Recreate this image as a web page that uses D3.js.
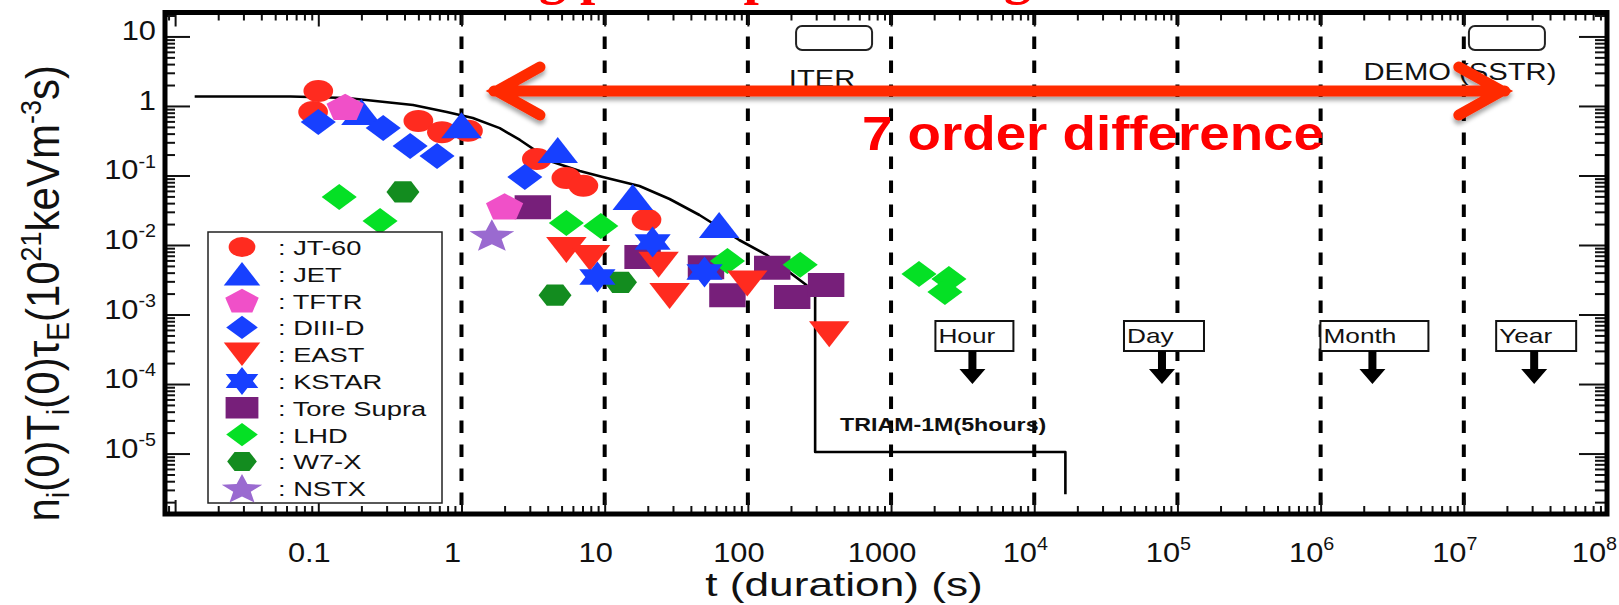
<!DOCTYPE html>
<html>
<head>
<meta charset="utf-8">
<script src="https://cdn.jsdelivr.net/npm/d3@7"></script>
<style>
  html, body { margin: 0; padding: 0; background: #fff; }
  svg { display: block; }
</style>
</head>
<body>
<svg id="chart" width="1619" height="605"></svg>
<script>
// ---------------------------------------------------------------
// Data: plasma duration t (s) versus n_i(0) T_i(0) tau_E (1e21 keV m^-3 s)
// Each series is a list of [duration, triple product] pairs.
// ---------------------------------------------------------------
const seriesNames = ["JT-60", "JET", "TFTR", "DIII-D", "EAST", "KSTAR", "Tore Supra", "LHD", "W7-X", "NSTX"];

const jt60      = [[0.1, 1.64], [0.092, 0.82], [0.50, 0.61], [0.73, 0.42], [1.11, 0.44], [3.36, 0.173], [5.4, 0.092], [7.1, 0.071], [19.6, 0.023]];
const jet       = [[0.20, 0.82], [1.0, 0.53], [4.7, 0.233], [15.7, 0.049], [63, 0.0194]];
const tftr      = [[0.154, 0.97], [2.0, 0.036]];
const diiid     = [[0.1, 0.59], [0.284, 0.48], [0.438, 0.266], [0.675, 0.191], [2.77, 0.095]];
const east      = [[5.4, 0.0085], [7.9, 0.0065], [23.8, 0.0052], [28.4, 0.00185], [99, 0.0028], [370, 0.00052]];
const kstar     = [[8.9, 0.00347], [21.6, 0.011], [49.8, 0.0041]];
const toreSupra = [[3.15, 0.035], [18.4, 0.0067], [51, 0.0048], [72, 0.0019], [148, 0.0047], [204, 0.00179], [352, 0.00266]];
const lhd       = [[0.14, 0.049], [0.27, 0.0221], [5.4, 0.0207], [9.4, 0.0188], [72, 0.0059], [232, 0.0052], [1567, 0.00383], [2535, 0.00324], [2378, 0.0021]];
const w7x       = [[0.39, 0.058], [4.5, 0.0019], [12.9, 0.0029]];
const nstx      = [[1.63, 0.0139]];

// Envelope of achieved performance, ending with the TRIAM-1M long discharge
const envelopeT = [0.0137, 0.064, 0.159, 0.459, 0.79, 1.2, 1.85, 2.56, 4.34, 6.7, 9.7, 17.5, 28.4, 45.9, 87, 135, 256, 295, 295, 16500, 16500];
const envelopeV = [1.37, 1.37, 1.30, 1.03, 0.82, 0.67, 0.48, 0.324, 0.156, 0.116, 0.095, 0.0706, 0.0459, 0.027, 0.0118, 0.0072, 0.00265, 0.00185, 1.05e-5, 1.05e-5, 2.6e-6];

// Axis tick labels
const xTickValues = [0.1, 1, 10, 100, 1000, 1e4, 1e5, 1e6, 1e7, 1e8];
const xTickBase   = ["0.1", "1", "10", "100", "1000", "10", "10", "10", "10", "10"];
const xTickExp    = ["", "", "", "", "", "4", "5", "6", "7", "8"];
const yTickValues = [10, 1, 0.1, 0.01, 1e-3, 1e-4, 1e-5];
const yTickBase   = ["10", "1", "10", "10", "10", "10", "10"];
const yTickExp    = ["", "", "-1", "-2", "-3", "-4", "-5"];

// Reference durations (vertical dashed guides) and time scales
const guideDurations = [1, 10, 100, 1000, 1e4, 1e5, 1e6, 1e7];
const periodNames    = ["Hour", "Day", "Month", "Year"];
const periodSeconds  = [3700, 78000, 2.3e6, 3.1e7];

// Future devices
const projectNames = ["ITER", "DEMO (SSTR)"];
const projectDur   = [400, 2e7];
const projectLevel = [9.5, 9.5];

// Span covered by the red double arrow
const spanDur   = [1.53, 2.13e7];
const spanLevel = 1.64;

// ---------------------------------------------------------------
// Styles
// ---------------------------------------------------------------
const seriesData   = [jt60, jet, tftr, diiid, east, kstar, toreSupra, lhd, w7x, nstx];
const seriesColors = ["#ff2b1f", "#1740ff", "#f050c8", "#1740ff", "#ff2b1f", "#1740ff", "#771f7a", "#05e025", "#138c1f", "#9a6ad0"];
const seriesShapes = ["circle", "triUp", "pentagon", "diamond", "triDown", "hexagram", "square", "diamond", "hexagon", "star"];
const drawOrder    = [6, 0, 1, 2, 3, 8, 7, 4, 5, 9];
const periodBoxWidths = [78, 80, 108, 80];
const MARK_SX = 1.35;   // markers are drawn horizontally widened
const TEXT_SX = 1.3;    // so is the lettering of the original graph

const W = 1619;
const svg = d3.select("#chart");
const FRAME = { left: 165, right: 1607, top: 12.5, bottom: 514 };

const x = d3.scaleLog().domain([0.0085, 1e8]).range([FRAME.left, FRAME.right]);
const y = d3.scaleLog().domain([1.35e-6, 22.1]).range([FRAME.bottom, FRAME.top]);

// ---------------------------------------------------------------
// Marker shapes as d3 symbol types
// ---------------------------------------------------------------
function polyType(ptsFn) {
  return {
    draw(ctx, size) {
      const k = Math.sqrt(size);
      const pts = ptsFn();
      pts.forEach((p, i) => i ? ctx.lineTo(p[0] * k, p[1] * k) : ctx.moveTo(p[0] * k, p[1] * k));
      ctx.closePath();
    }
  };
}
function regular(n, R, start, dy) {
  return d3.range(n).map(i => {
    const a = (start + i * 360 / n) * Math.PI / 180;
    return [R * Math.cos(a), R * Math.sin(a) + dy];
  });
}
function starPts(n, R, r, dy) {
  return d3.range(2 * n).map(i => {
    const a = (-90 + i * 180 / n) * Math.PI / 180;
    const rr = i % 2 ? r : R;
    return [rr * Math.cos(a), rr * Math.sin(a) + dy];
  });
}
const symbolTypes = {
  circle:   { draw(ctx, size) { const r = 11 * Math.sqrt(size); ctx.moveTo(r, 0); ctx.arc(0, 0, r, 0, 2 * Math.PI); } },
  triUp:    polyType(() => [[0, -13], [15, 13], [-15, 13]]),
  triDown:  polyType(() => [[0, 13], [15, -13], [-15, -13]]),
  diamond:  polyType(() => [[0, -13], [13, 0], [0, 13], [-13, 0]]),
  square:   polyType(() => [[-13.5, -12], [13.5, -12], [13.5, 12], [-13.5, 12]]),
  pentagon: polyType(() => regular(5, 14.5, -90, 1.4)),
  hexagon:  polyType(() => regular(6, 12.2, 0, 0)),
  hexagram: polyType(() => starPts(6, 15.5, 15.5 / Math.sqrt(3), 0)),
  star:     polyType(() => starPts(5, 17.5, 7.6, 1.6))
};
function markerPath(shape, scale) {
  return d3.symbol().type(symbolTypes[shape]).size(scale * scale)();
}

// ---------------------------------------------------------------
// Helpers for the widened lettering
// ---------------------------------------------------------------
function wideText(parent, px, py, sx, anchor) {
  return parent.append("text")
    .attr("transform", `translate(${px},${py}) scale(${sx},1)`)
    .attr("text-anchor", anchor || "start");
}
function powerLabel(t, base, exp, fs) {
  t.append("tspan").text(base);
  if (exp) {
    t.append("tspan").attr("font-size", fs * 0.64).attr("dy", -fs * 0.42).text(exp);
  }
}

// ---------------------------------------------------------------
// Cut-off heading at the top of the slide
// ---------------------------------------------------------------
svg.append("text")
  .attr("x", 444).attr("y", -7)
  .attr("font-family", "'Liberation Serif', 'DejaVu Serif', serif")
  .attr("font-weight", "bold").attr("font-size", 55)
  .attr("fill", "#ff0000")
  .text("Long pulse operation regime");

// ---------------------------------------------------------------
// Dashed decade guides
// ---------------------------------------------------------------
svg.append("g").selectAll("line").data(guideDurations).join("line")
  .attr("x1", d => x(d)).attr("x2", d => x(d))
  .attr("y1", FRAME.top).attr("y2", FRAME.bottom)
  .attr("stroke", "#000").attr("stroke-width", 4)
  .attr("stroke-dasharray", "12.5,11.5");

// ---------------------------------------------------------------
// Axes: inward ticks on all four sides
// ---------------------------------------------------------------
function logTicks(lo, hi) {
  const major = [], minor = [];
  for (let e = Math.floor(Math.log10(lo)); e <= Math.ceil(Math.log10(hi)); e++) {
    for (let k = 1; k <= 9; k++) {
      const v = +(k * Math.pow(10, e)).toPrecision(6);
      if (v < lo || v > hi) continue;
      (k === 1 ? major : minor).push(v);
    }
  }
  return { major, minor };
}
const xt = logTicks(x.domain()[0], x.domain()[1]);
const yt = logTicks(y.domain()[0], y.domain()[1]);

function tickAxis(axisFn, scale, vals, size, transform) {
  const g = svg.append("g").attr("transform", transform)
    .call(axisFn(scale).tickValues(vals).tickSize(size).tickFormat(""));
  g.select(".domain").remove();
  g.selectAll("line").attr("stroke", "#111").attr("stroke-width", 2);
}
tickAxis(d3.axisBottom, x, xt.major, -14, `translate(0,${FRAME.bottom})`);
tickAxis(d3.axisBottom, x, xt.minor, -8,  `translate(0,${FRAME.bottom})`);
tickAxis(d3.axisTop,    x, xt.major, -14, `translate(0,${FRAME.top})`);
tickAxis(d3.axisTop,    x, xt.minor, -8,  `translate(0,${FRAME.top})`);
tickAxis(d3.axisLeft,   y, yt.major, -25, `translate(${FRAME.left},0)`);
tickAxis(d3.axisLeft,   y, yt.minor, -10, `translate(${FRAME.left},0)`);
tickAxis(d3.axisRight,  y, yt.major, -28, `translate(${FRAME.right},0)`);
tickAxis(d3.axisRight,  y, yt.minor, -12, `translate(${FRAME.right},0)`);

// Tick labels
const tickFont = 28;
const xLab = svg.append("g")
  .attr("font-family", "'Liberation Sans', Arial, sans-serif")
  .attr("font-size", tickFont).attr("fill", "#111");
xTickValues.forEach((v, i) => {
  const t = wideText(xLab, x(v) - 9, 562, 1.1, "middle");
  powerLabel(t, xTickBase[i], xTickExp[i], tickFont);
  // keep the outermost label inside the page
  const bb = t.node().getBBox();
  const right = x(v) - 9 + (bb.x + bb.width) * 1.1;
  if (right > W - 2) {
    t.attr("transform", `translate(${x(v) - 9 - (right - (W - 2))},562) scale(1.1,1)`);
  }
});
const yLab = svg.append("g")
  .attr("font-family", "'Liberation Sans', Arial, sans-serif")
  .attr("font-size", tickFont).attr("fill", "#111");
yTickValues.forEach((v, i) => {
  const t = wideText(yLab, 156, y(v) + 4, 1.1, "end");
  powerLabel(t, yTickBase[i], yTickExp[i], tickFont);
});

// Axis titles
wideText(svg, 844, 596, TEXT_SX, "middle")
  .attr("font-family", "'Liberation Sans', Arial, sans-serif")
  .attr("font-size", 34).attr("fill", "#111")
  .text("t (duration) (s)");

const yTitle = svg.append("text")
  .attr("transform", `translate(59,${(FRAME.top + FRAME.bottom) / 2 + 30}) rotate(-90) scale(1,1.12)`)
  .attr("text-anchor", "middle")
  .attr("font-family", "'Liberation Sans', Arial, sans-serif")
  .attr("font-size", 42).attr("fill", "#111");
[["n", 0], ["i", 1], ["(0)T", -1], ["i", 1], ["(0)\u03C4", -1], ["E", 1], ["(10", -1], ["21", 2], ["keVm", -2], ["-3", 2], ["s)", -2]]
  .forEach(([s, mode]) => {
    const ts = yTitle.append("tspan").text(s);
    if (mode === 1) ts.attr("font-size", 28).attr("dy", 9);
    if (mode === -1) ts.attr("dy", -9);
    if (mode === 2) ts.attr("font-size", 27).attr("dy", -16);
    if (mode === -2) ts.attr("dy", 16);
  });

// ---------------------------------------------------------------
// Envelope curve
// ---------------------------------------------------------------
const envelope = envelopeT.map((t, i) => [t, envelopeV[i]]);
svg.append("path")
  .datum(envelope)
  .attr("d", d3.line().x(d => x(d[0])).y(d => y(d[1])))
  .attr("fill", "none").attr("stroke", "#000").attr("stroke-width", 2.6)
  .attr("stroke-linejoin", "round");

wideText(svg, x(440), y(2.1e-5), 1.29, "start")
  .attr("font-family", "'Liberation Sans', Arial, sans-serif")
  .attr("font-weight", "bold").attr("font-size", 18).attr("fill", "#111")
  .text("TRIAM-1M(5hours)");

// ---------------------------------------------------------------
// Device markers
// ---------------------------------------------------------------
const markLayer = svg.append("g");
drawOrder.forEach(si => {
  markLayer.append("g").selectAll("path").data(seriesData[si]).join("path")
    .attr("transform", d => `translate(${x(d[0])},${y(d[1])}) scale(${MARK_SX},1)`)
    .attr("d", markerPath(seriesShapes[si], 1))
    .attr("fill", seriesColors[si]);
});

// ---------------------------------------------------------------
// Time-scale boxes with downward arrows
// ---------------------------------------------------------------
const periodLayer = svg.append("g")
  .attr("font-family", "'Liberation Sans', Arial, sans-serif")
  .attr("font-size", 21).attr("fill", "#111");
periodNames.forEach((name, i) => {
  const cx = x(periodSeconds[i]);
  const bw = periodBoxWidths[i];
  const left = cx - bw / 2 + 2;
  const g = periodLayer.append("g");
  g.append("rect")
    .attr("x", left).attr("y", 321).attr("width", bw).attr("height", 30)
    .attr("fill", "#fff").attr("stroke", "#111").attr("stroke-width", 2);
  wideText(g, left + 3, 343, 1.25, "start").text(name);
  const arrow = d3.path();
  arrow.moveTo(cx - 4, 351); arrow.lineTo(cx + 4, 351); arrow.lineTo(cx + 4, 369);
  arrow.lineTo(cx + 13, 369); arrow.lineTo(cx, 384); arrow.lineTo(cx - 13, 369);
  arrow.lineTo(cx - 4, 369); arrow.closePath();
  g.append("path").attr("d", arrow.toString()).attr("fill", "#000");
});

// ---------------------------------------------------------------
// Future devices: ITER and DEMO
// ---------------------------------------------------------------
const projLayer = svg.append("g")
  .attr("font-family", "'Liberation Sans', Arial, sans-serif")
  .attr("font-size", 23).attr("fill", "#111");
projectNames.forEach((name, i) => {
  const cx = x(projectDur[i]), cy = y(projectLevel[i]);
  projLayer.append("rect")
    .attr("x", cx - 38).attr("y", cy - 12).attr("width", 76).attr("height", 24)
    .attr("rx", 6).attr("fill", "none").attr("stroke", "#222").attr("stroke-width", 2);
});
wideText(projLayer, x(projectDur[0]) - 12, 87, 1.27, "middle").text(projectNames[0]);
wideText(projLayer, x(projectDur[1]) - 47, 80, 1.27, "middle").text(projectNames[1]);

// ---------------------------------------------------------------
// Seven-decade span arrow and caption
// ---------------------------------------------------------------
const defs = svg.append("defs");
defs.append("filter").attr("id", "shadow").attr("x", "-5%").attr("y", "-50%").attr("width", "110%").attr("height", "200%")
  .append("feDropShadow").attr("dx", 0).attr("dy", 4).attr("stdDeviation", 2)
  .attr("flood-color", "#000").attr("flood-opacity", 0.35);

const ax0 = x(spanDur[0]), ax1 = x(spanDur[1]), ay = y(spanLevel);
const spanArrow = d3.path();
spanArrow.moveTo(ax0 + 6, ay); spanArrow.lineTo(ax1 - 6, ay);
spanArrow.moveTo(ax0 + 52, ay - 24); spanArrow.lineTo(ax0 + 9, ay); spanArrow.lineTo(ax0 + 52, ay + 24);
spanArrow.moveTo(ax1 - 52, ay - 24); spanArrow.lineTo(ax1 - 9, ay); spanArrow.lineTo(ax1 - 52, ay + 24);
svg.append("path")
  .attr("d", spanArrow.toString())
  .attr("fill", "none").attr("stroke", "#ff2a00").attr("stroke-width", 11)
  .attr("stroke-linecap", "round").attr("stroke-linejoin", "miter")
  .attr("filter", "url(#shadow)");

svg.append("text")
  .attr("x", x(626)).attr("y", y(0.233))
  .attr("font-family", "'Liberation Sans', Arial, sans-serif")
  .attr("font-weight", "bold").attr("font-size", 49).attr("fill", "#ff0000")
  .attr("textLength", 462).attr("lengthAdjust", "spacingAndGlyphs")
  .text("7 order difference");

// ---------------------------------------------------------------
// Legend
// ---------------------------------------------------------------
const legend = svg.append("g");
legend.append("rect")
  .attr("x", 208).attr("y", 232).attr("width", 234).attr("height", 271)
  .attr("fill", "#fff").attr("stroke", "#222").attr("stroke-width", 1.5);
seriesNames.forEach((name, i) => {
  const ry = 247 + i * 26.8;
  legend.append("path")
    .attr("transform", `translate(242,${ry}) scale(${MARK_SX},1)`)
    .attr("d", markerPath(seriesShapes[i], 0.9))
    .attr("fill", seriesColors[i]);
  wideText(legend, 278, ry + 8, TEXT_SX, "start")
    .attr("font-family", "'Liberation Sans', Arial, sans-serif")
    .attr("font-size", 21).attr("fill", "#111")
    .text(": " + name);
});

// ---------------------------------------------------------------
// Plot frame
// ---------------------------------------------------------------
svg.append("rect")
  .attr("x", FRAME.left).attr("y", FRAME.top)
  .attr("width", FRAME.right - FRAME.left).attr("height", FRAME.bottom - FRAME.top)
  .attr("fill", "none").attr("stroke", "#000").attr("stroke-width", 5);
</script>
</body>
</html>
